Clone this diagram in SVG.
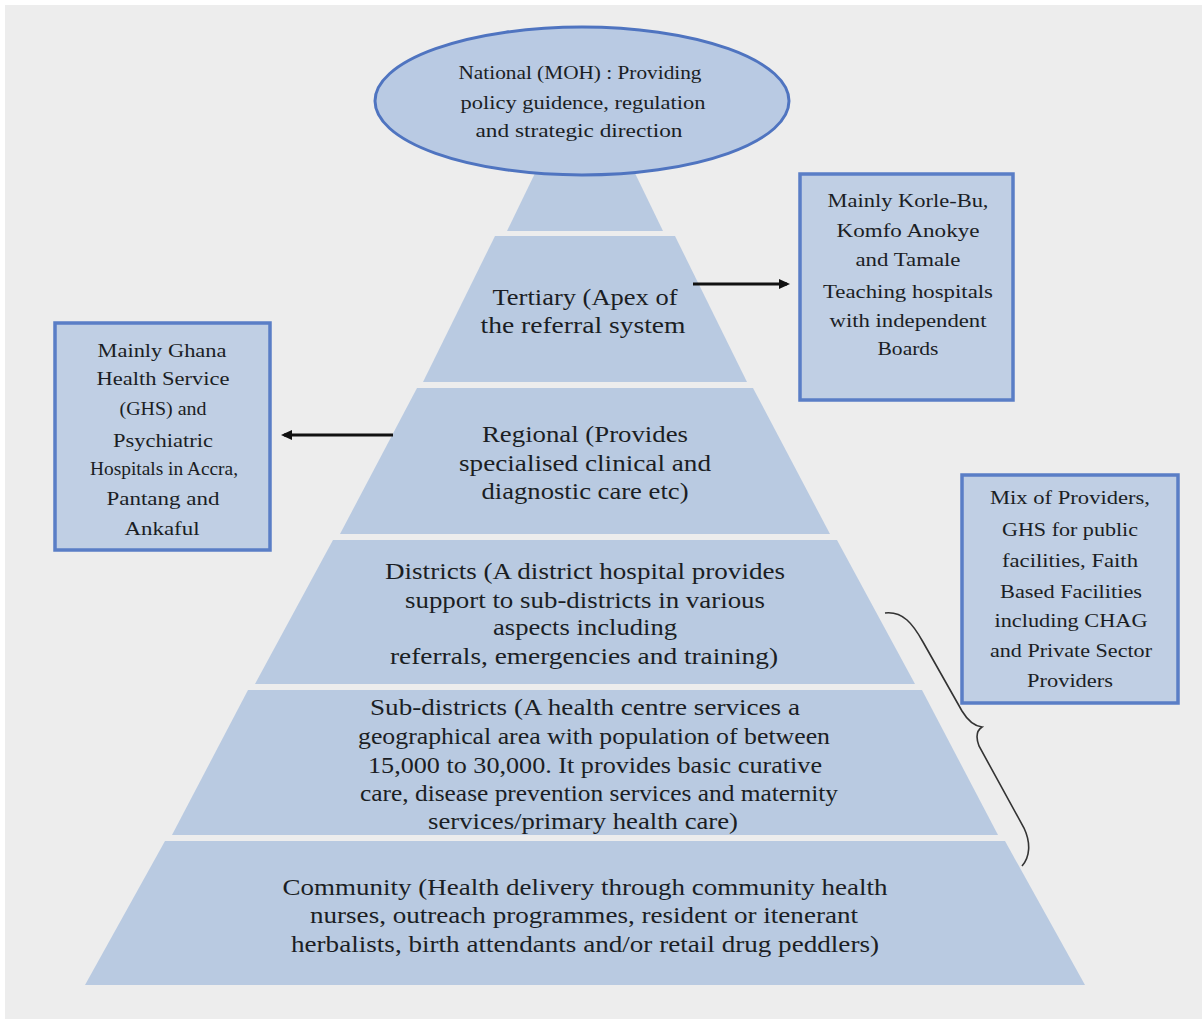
<svg xmlns="http://www.w3.org/2000/svg" width="1202" height="1019" viewBox="0 0 1202 1019">
  <style>
    .tier { fill: #b9cae1; }
    .note { fill: #c0cfe4; stroke: #5a7ec6; stroke-width: 3.5; }
    .oval { fill: #b9cae3; stroke: #4f74c0; stroke-width: 3; }
    text { font-family: "Liberation Serif", "Times New Roman", serif; fill: #1b1e24; text-anchor: middle; }
    .sm { font-size: 19px; }
    .md { font-size: 22.5px; }
    .link { stroke: #111; stroke-width: 3; fill: none; }
    .brace { stroke: #333; stroke-width: 1.6; fill: none; }
  </style>
  <defs>
    <marker id="head" markerWidth="11" markerHeight="10" refX="8" refY="5" orient="auto" markerUnits="userSpaceOnUse" viewBox="0 0 11 10">
      <path d="M0,0 L11,5 L0,10 Z" fill="#111"/>
    </marker>
  </defs>

  <rect x="0" y="0" width="1202" height="1019" fill="#ffffff"/>
  <rect x="5" y="5" width="1197" height="1014" fill="#ededed"/>

  <!-- pyramid tiers -->
  <g id="tier-top">
    <polygon class="tier" points="585,70 663,231 507,231"/>
  </g>
  <g id="tier-tertiary">
    <polygon class="tier" points="495,236 675,236 747,382 423,382"/>
    <text class="md" x="585" y="305" textLength="185" lengthAdjust="spacingAndGlyphs">Tertiary (Apex of</text>
    <text class="md" x="583" y="333" textLength="205" lengthAdjust="spacingAndGlyphs">the referral system</text>
  </g>
  <g id="tier-regional">
    <polygon class="tier" points="417,388 753,388 830,534 340,534"/>
    <text class="md" x="585" y="442" textLength="206" lengthAdjust="spacingAndGlyphs">Regional (Provides</text>
    <text class="md" x="585" y="471" textLength="252" lengthAdjust="spacingAndGlyphs">specialised clinical  and</text>
    <text class="md" x="585" y="499" textLength="207" lengthAdjust="spacingAndGlyphs">diagnostic care etc)</text>
  </g>
  <g id="tier-districts">
    <polygon class="tier" points="333,540 837,540 915,684 255,684"/>
    <text class="md" x="585" y="579" textLength="400" lengthAdjust="spacingAndGlyphs">Districts (A district hospital provides</text>
    <text class="md" x="585" y="608" textLength="360" lengthAdjust="spacingAndGlyphs">support to sub-districts in various</text>
    <text class="md" x="585" y="635" textLength="184" lengthAdjust="spacingAndGlyphs">aspects including</text>
    <text class="md" x="584" y="664" textLength="388" lengthAdjust="spacingAndGlyphs">referrals, emergencies  and training)</text>
  </g>
  <g id="tier-subdistricts">
    <polygon class="tier" points="248,690 922,690 998,835 172,835"/>
    <text class="md" x="585" y="715" textLength="430" lengthAdjust="spacingAndGlyphs">Sub-districts (A health centre services  a</text>
    <text class="md" x="594" y="744" textLength="472" lengthAdjust="spacingAndGlyphs">geographical area with population of between</text>
    <text class="md" x="595" y="773" textLength="454" lengthAdjust="spacingAndGlyphs">15,000 to 30,000. It provides  basic curative</text>
    <text class="md" x="599" y="801" textLength="478" lengthAdjust="spacingAndGlyphs">care, disease prevention services  and maternity</text>
    <text class="md" x="583" y="829" textLength="310" lengthAdjust="spacingAndGlyphs">services/primary  health care)</text>
  </g>
  <g id="tier-community">
    <polygon class="tier" points="165,841 1005,841 1085,985 85,985"/>
    <text class="md" x="585" y="895" textLength="605" lengthAdjust="spacingAndGlyphs">Community (Health delivery through community health</text>
    <text class="md" x="584" y="923" textLength="548" lengthAdjust="spacingAndGlyphs">nurses, outreach programmes, resident or itenerant</text>
    <text class="md" x="585" y="952" textLength="588" lengthAdjust="spacingAndGlyphs">herbalists, birth attendants and/or retail drug peddlers)</text>
  </g>

  <!-- national level -->
  <g id="national">
    <ellipse class="oval" cx="582" cy="101" rx="207" ry="74"/>
    <text class="sm" x="580" y="79" textLength="243" lengthAdjust="spacingAndGlyphs">National (MOH) : Providing</text>
    <text class="sm" x="583" y="109" textLength="245" lengthAdjust="spacingAndGlyphs">policy guidence, regulation</text>
    <text class="sm" x="579" y="137" textLength="207" lengthAdjust="spacingAndGlyphs">and strategic direction</text>
  </g>

  <!-- side notes -->
  <g id="note-teaching">
    <rect class="note" x="800" y="174" width="213" height="226"/>
    <text class="sm" x="908" y="207" textLength="161" lengthAdjust="spacingAndGlyphs">Mainly Korle-Bu,</text>
    <text class="sm" x="908" y="237" textLength="143" lengthAdjust="spacingAndGlyphs">Komfo Anokye</text>
    <text class="sm" x="908" y="266" textLength="105" lengthAdjust="spacingAndGlyphs">and Tamale</text>
    <text class="sm" x="908" y="298" textLength="170" lengthAdjust="spacingAndGlyphs">Teaching hospitals</text>
    <text class="sm" x="908" y="327" textLength="157" lengthAdjust="spacingAndGlyphs">with independent</text>
    <text class="sm" x="908" y="355" textLength="61" lengthAdjust="spacingAndGlyphs">Boards</text>
  </g>
  <g id="note-regional">
    <rect class="note" x="55" y="323" width="215" height="227"/>
    <text class="sm" x="162" y="357" textLength="129" lengthAdjust="spacingAndGlyphs">Mainly Ghana</text>
    <text class="sm" x="163" y="385" textLength="133" lengthAdjust="spacingAndGlyphs">Health Service</text>
    <text class="sm" x="163" y="415" textLength="87" lengthAdjust="spacingAndGlyphs">(GHS) and</text>
    <text class="sm" x="163" y="447" textLength="100" lengthAdjust="spacingAndGlyphs">Psychiatric</text>
    <text class="sm" x="164" y="475" textLength="148" lengthAdjust="spacingAndGlyphs">Hospitals in Accra,</text>
    <text class="sm" x="163" y="505" textLength="113" lengthAdjust="spacingAndGlyphs">Pantang and</text>
    <text class="sm" x="162" y="535" textLength="75" lengthAdjust="spacingAndGlyphs">Ankaful</text>
  </g>
  <g id="note-providers">
    <rect class="note" x="962" y="475" width="216" height="228"/>
    <text class="sm" x="1070" y="504" textLength="160" lengthAdjust="spacingAndGlyphs">Mix of Providers,</text>
    <text class="sm" x="1070" y="536" textLength="136" lengthAdjust="spacingAndGlyphs">GHS for public</text>
    <text class="sm" x="1070" y="567" textLength="136" lengthAdjust="spacingAndGlyphs">facilities, Faith</text>
    <text class="sm" x="1071" y="598" textLength="142" lengthAdjust="spacingAndGlyphs">Based Facilities</text>
    <text class="sm" x="1071" y="627" textLength="153" lengthAdjust="spacingAndGlyphs">including CHAG</text>
    <text class="sm" x="1071" y="657" textLength="162" lengthAdjust="spacingAndGlyphs">and Private Sector</text>
    <text class="sm" x="1070" y="687" textLength="86" lengthAdjust="spacingAndGlyphs">Providers</text>
  </g>

  <!-- connectors -->
  <g id="connectors">
    <line class="link" x1="693" y1="284" x2="787" y2="284" marker-end="url(#head)"/>
    <line class="link" x1="393" y1="435" x2="284" y2="435" marker-end="url(#head)"/>
    <path class="brace" d="M885,613 C903,611 913,624 923,642 L962,711 C968,721 974,726 982,727 C976,731 976,738 979,746 L1024,828 C1031,843 1030,857 1022,866"/>
  </g>
</svg>
